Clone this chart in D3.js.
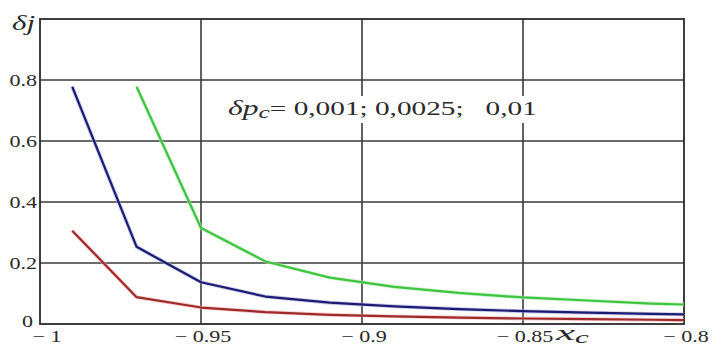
<!DOCTYPE html>
<html>
<head>
<meta charset="utf-8">
<script src="https://cdn.jsdelivr.net/npm/d3@7"></script>
<style>
  html, body { margin: 0; padding: 0; background: #fff; }
  svg { display: block; }
</style>
</head>
<body>
<svg id="chart" width="713" height="347"></svg>
<script>
// x_c sample points and the three δj curves (δp_c = 0.001, 0.0025, 0.01)
const xs        = [-0.99, -0.97, -0.95, -0.93, -0.91, -0.89, -0.87, -0.85, -0.83, -0.81, -0.79];
const dj_0001   = [0.306, 0.088, 0.054, 0.039, 0.030, 0.025, 0.021, 0.018, 0.016, 0.014, 0.012];
const dj_00025  = [0.778, 0.253, 0.137, 0.090, 0.070, 0.058, 0.049, 0.042, 0.037, 0.033, 0.030];
const dj_001    = [null, 0.778, 0.315, 0.205, 0.152, 0.122, 0.102, 0.087, 0.077, 0.067, 0.061];
const xTicks    = [-1, -0.95, -0.9, -0.85, -0.8];
const xTickText = ["\u2212 1", "\u2212 0.95", "\u2212 0.9", "\u2212 0.85", "\u2212 0.8"];
const yTicks    = [0, 0.2, 0.4, 0.6, 0.8];
const yTickText = ["0", "0.2", "0.4", "0.6", "0.8"];

const series = [
  { values: dj_0001,  color: "#9e2b2b", glow: "#f3b0b0" },
  { values: dj_00025, color: "#1b1b72", glow: "#a9a9dd" },
  { values: dj_001,   color: "#3fc43f", glow: "#b8efb8" }
];

const FONT = "Liberation Serif";
const svg = d3.select("#chart");
const L = 40, R = 684, T = 19, B = 324;
const x = d3.scaleLinear().domain([-1, -0.8]).range([L, R]);
const y = d3.scaleLinear().domain([0, 1]).range([B, T]);

// stretch a text horizontally so that it spans the given width
function stretchTo(sel, px, py, width) {
  const w = sel.node().getComputedTextLength();
  sel.attr("transform", `translate(${px},${py}) scale(${width / w},1)`);
}

svg.append("defs").append("clipPath").attr("id", "plot")
  .append("rect").attr("x", L).attr("y", T).attr("width", R - L).attr("height", B - T);

// grid
const grid = svg.append("g").attr("stroke", "#3a3a3a").attr("stroke-width", 1.6);
grid.selectAll("line.v").data(xTicks.slice(1, -1)).join("line")
  .attr("x1", d => x(d)).attr("x2", d => x(d)).attr("y1", T).attr("y2", B);
grid.selectAll("line.h").data(yTicks.slice(1)).join("line")
  .attr("y1", d => y(d)).attr("y2", d => y(d)).attr("x1", L).attr("x2", R);

// frame
svg.append("rect").attr("x", L).attr("y", T).attr("width", R - L).attr("height", B - T)
  .attr("fill", "none").attr("stroke", "#2a2a2a").attr("stroke-width", 1.8);

// curves
const line = d3.line().defined(d => d[1] != null).x(d => x(d[0])).y(d => y(d[1]));
const curves = svg.append("g").attr("clip-path", "url(#plot)");
series.forEach(s => {
  const pts = xs.map((v, i) => [v, s.values[i]]);
  curves.append("path").attr("d", line(pts)).attr("fill", "none")
    .attr("stroke", s.glow).attr("stroke-width", 4).attr("stroke-opacity", 0.6);
  curves.append("path").attr("d", line(pts)).attr("fill", "none")
    .attr("stroke", s.color).attr("stroke-width", 2.2).attr("stroke-linejoin", "round");
});

const labels = svg.append("g").attr("font-family", FONT).attr("fill", "#2a2a2a");

// tick labels share one horizontal stretch
const SX = 1.3;
labels.selectAll("text.yt").data(yTicks).join("text").attr("class", "yt")
  .attr("transform", (d, i) => `translate(${i === 0 ? 33 : 37},${i === 0 ? 327 : y(d) + 6}) scale(${SX},1)`)
  .attr("text-anchor", "end").attr("font-size", 17)
  .text((d, i) => yTickText[i]);

labels.selectAll("text.xt").data(xTicks).join("text").attr("class", "xt")
  .attr("transform", (d, i) => `translate(${x(d) + (i === 0 ? 7 : 2)},342) scale(${SX},1)`)
  .attr("text-anchor", "middle").attr("font-size", 17)
  .text((d, i) => xTickText[i]);

// axis titles
const xl = labels.append("text").attr("font-size", 22).attr("font-style", "italic");
xl.append("tspan").text("x");
xl.append("tspan").attr("dy", 3).attr("font-size", 16).text("c");
stretchTo(xl, 556, 340, 33);

const yl = labels.append("text").attr("font-size", 21).attr("font-style", "italic").text("\u03B4j");
stretchTo(yl, 12, 30, 23);

// parameter note on a white patch
labels.append("rect").attr("x", 222).attr("y", 96).attr("width", 322).attr("height", 27).attr("fill", "#fff");
const note = labels.append("text").attr("font-size", 19.5).attr("xml:space", "preserve");
note.append("tspan").attr("font-style", "italic").attr("font-size", 21).text("\u03B4p");
note.append("tspan").attr("font-style", "italic").attr("dy", 3).attr("font-size", 17).text("c");
note.append("tspan").attr("dy", -3).text("= 0,001; 0,0025;   0,01");
stretchTo(note, 228, 115, 309);
</script>
</body>
</html>
